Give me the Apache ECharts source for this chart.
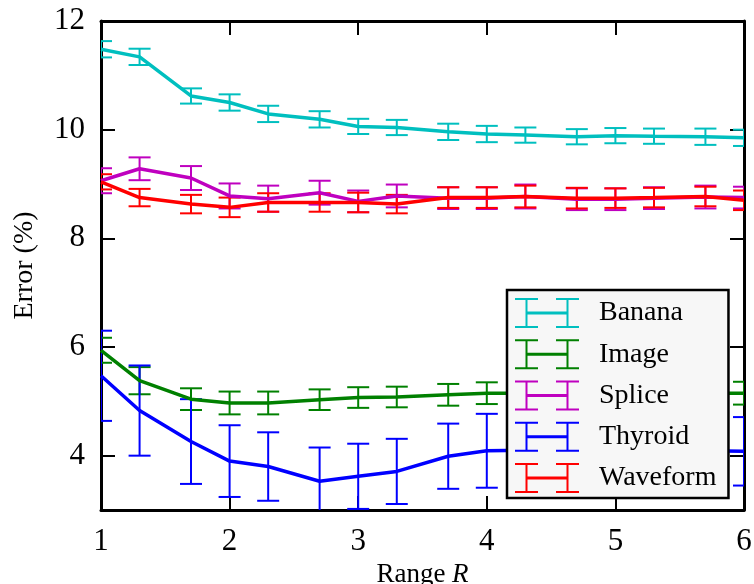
<!DOCTYPE html>
<html>
<head>
<meta charset="utf-8">
<script src="https://cdn.jsdelivr.net/npm/echarts@6/dist/echarts.min.js"></script>
<style>
  html, body { margin: 0; padding: 0; background: #fff; }
  #chart { width: 754px; height: 584px; }
</style>
</head>
<body>
<div id="chart"></div>
<script>
const rangeR = [1, 1.3, 1.7, 2, 2.3, 2.7, 3, 3.3, 3.7, 4, 4.3, 4.7, 5, 5.3, 5.7, 6];

const bananaMean = [11.48, 11.34, 10.62, 10.5, 10.29, 10.19, 10.06, 10.04, 9.96, 9.92, 9.9, 9.87, 9.89, 9.88, 9.87, 9.85];
const bananaErr = [0.15, 0.15, 0.14, 0.15, 0.15, 0.15, 0.14, 0.14, 0.15, 0.15, 0.14, 0.14, 0.14, 0.14, 0.15, 0.15];

const imageMean = [5.94, 5.38, 5.04, 4.97, 4.97, 5.03, 5.07, 5.08, 5.12, 5.15, 5.15, 5.15, 5.15, 5.15, 5.15, 5.15];
const imageErr = [0.23, 0.25, 0.2, 0.21, 0.21, 0.19, 0.19, 0.19, 0.2, 0.2, 0.2, 0.2, 0.2, 0.2, 0.2, 0.21];

const spliceMean = [9.06, 9.28, 9.11, 8.78, 8.73, 8.84, 8.68, 8.78, 8.74, 8.74, 8.77, 8.72, 8.72, 8.74, 8.76, 8.75];
const spliceErr = [0.23, 0.21, 0.22, 0.23, 0.24, 0.22, 0.2, 0.21, 0.2, 0.2, 0.22, 0.2, 0.2, 0.2, 0.21, 0.2];

const thyroidMean = [5.47, 4.83, 4.26, 3.9, 3.8, 3.53, 3.62, 3.71, 3.99, 4.09, 4.1, 4.1, 4.1, 4.1, 4.09, 4.08];
const thyroidErr = [0.83, 0.83, 0.78, 0.66, 0.63, 0.62, 0.6, 0.6, 0.6, 0.68, 0.65, 0.65, 0.65, 0.65, 0.63, 0.63];

const waveformMean = [9.04, 8.75, 8.63, 8.57, 8.66, 8.66, 8.66, 8.63, 8.75, 8.75, 8.77, 8.74, 8.74, 8.75, 8.77, 8.7];
const waveformErr = [0.14, 0.16, 0.17, 0.18, 0.17, 0.17, 0.18, 0.17, 0.19, 0.19, 0.2, 0.19, 0.18, 0.18, 0.18, 0.18];

const yTicks = [4, 6, 8, 10, 12];

const datasets = [
    {name: 'Banana', color: '#00bfbf', mean: bananaMean, err: bananaErr},
    {name: 'Image', color: '#008000', mean: imageMean, err: imageErr},
    {name: 'Splice', color: '#bf00bf', mean: spliceMean, err: spliceErr},
    {name: 'Thyroid', color: '#0000ff', mean: thyroidMean, err: thyroidErr},
    {name: 'Waveform', color: '#ff0000', mean: waveformMean, err: waveformErr}
];

const font = '"Liberation Serif", "DejaVu Serif", serif';

// errorbar glyph for the legend: two I-beams joined by a thicker line
const errIcon = 'path://M0 0h23v2H0z M10.5 0h2v30h-2z M0 28h23v2H0z M11.5 13.5h41v3h-41z M41 0h23v2H41z M51.5 0h2v30h-2z M41 28h23v2H41z';

const renderErrorBar = (color) => (params, api) => {
    const x = api.value(0);
    const pLo = api.coord([x, api.value(1)]);
    const pHi = api.coord([x, api.value(2)]);
    const hw = 11;
    const style = {stroke: color, lineWidth: 2};
    return {
        type: 'group',
        children: [
            {type: 'line', shape: {x1: pLo[0], y1: pLo[1], x2: pHi[0], y2: pHi[1]}, style},
            {type: 'line', shape: {x1: pHi[0] - hw, y1: pHi[1], x2: pHi[0] + hw, y2: pHi[1]}, style},
            {type: 'line', shape: {x1: pLo[0] - hw, y1: pLo[1], x2: pLo[0] + hw, y2: pLo[1]}, style}
        ]
    };
};

const series = [];
datasets.forEach((d, k) => {
    series.push({
        name: d.name,
        type: 'line',
        data: rangeR.map((x, i) => [x, d.mean[i]]),
        showSymbol: false,
        color: d.color,
        lineStyle: {color: d.color, width: 3.5},
        z: 2
    });
    series.push({
        name: d.name,
        type: 'custom',
        clip: true,
        color: d.color,
        data: rangeR.map((x, i) => [x, d.mean[i] - d.err[i], d.mean[i] + d.err[i]]),
        renderItem: renderErrorBar(d.color),
        z: 2
    });
});

const axisLine = {show: true, onZero: false, lineStyle: {color: '#000', width: 3}};
const axisTick = {show: true, inside: true, length: 14, lineStyle: {color: '#000', width: 2}};

const chart = echarts.init(document.getElementById('chart'));
chart.setOption({
    animation: false,
    grid: {left: 101, right: 10, top: 21, bottom: 74, outerBoundsMode: 'none', containLabel: false},
    legend: {
        orient: 'vertical',
        left: 507,
        top: 290,
        width: 224,
        z: 10,
        backgroundColor: '#f7f7f7',
        borderColor: '#000',
        borderWidth: 2.5,
        borderRadius: 0,
        padding: [8, 12, 5, 8],
        itemWidth: 64,
        itemHeight: 30,
        itemGap: 11.25,
        selectedMode: false,
        textStyle: {fontFamily: font, fontSize: 28, lineHeight: 30, color: '#000', padding: [0, 0, 0, 15]},
        data: datasets.map(d => ({name: d.name, icon: errIcon, itemStyle: {color: d.color}}))
    },
    xAxis: [
        {
            type: 'value', min: 1, max: 6, interval: 1, position: 'bottom',
            name: 'Range {i|R}', nameLocation: 'middle', nameGap: 50,
            nameTextStyle: {fontFamily: font, fontSize: 27, color: '#000', rich: {i: {fontFamily: font, fontSize: 27, fontStyle: 'italic', color: '#000'}}},
            axisLine, axisTick, splitLine: {show: false},
            axisLabel: {fontFamily: font, fontSize: 31, color: '#000', margin: 16}
        },
        {
            type: 'value', min: 1, max: 6, interval: 1, position: 'top',
            axisLine, axisTick, splitLine: {show: false}, axisLabel: {show: false}
        }
    ],
    yAxis: [
        {
            type: 'value', min: 3, max: 12, position: 'left',
            name: 'Error (%)', nameLocation: 'middle', nameGap: 62, nameRotate: 90,
            nameTextStyle: {fontFamily: font, fontSize: 28, color: '#000'},
            axisLine, splitLine: {show: false},
            axisTick: Object.assign({customValues: yTicks}, axisTick),
            axisLabel: {customValues: yTicks, fontFamily: font, fontSize: 31, color: '#000', margin: 16}
        },
        {
            type: 'value', min: 3, max: 12, position: 'right',
            axisLine, splitLine: {show: false},
            axisTick: Object.assign({customValues: yTicks}, axisTick),
            axisLabel: {show: false}
        }
    ],
    series: series
});
</script>
</body>
</html>
